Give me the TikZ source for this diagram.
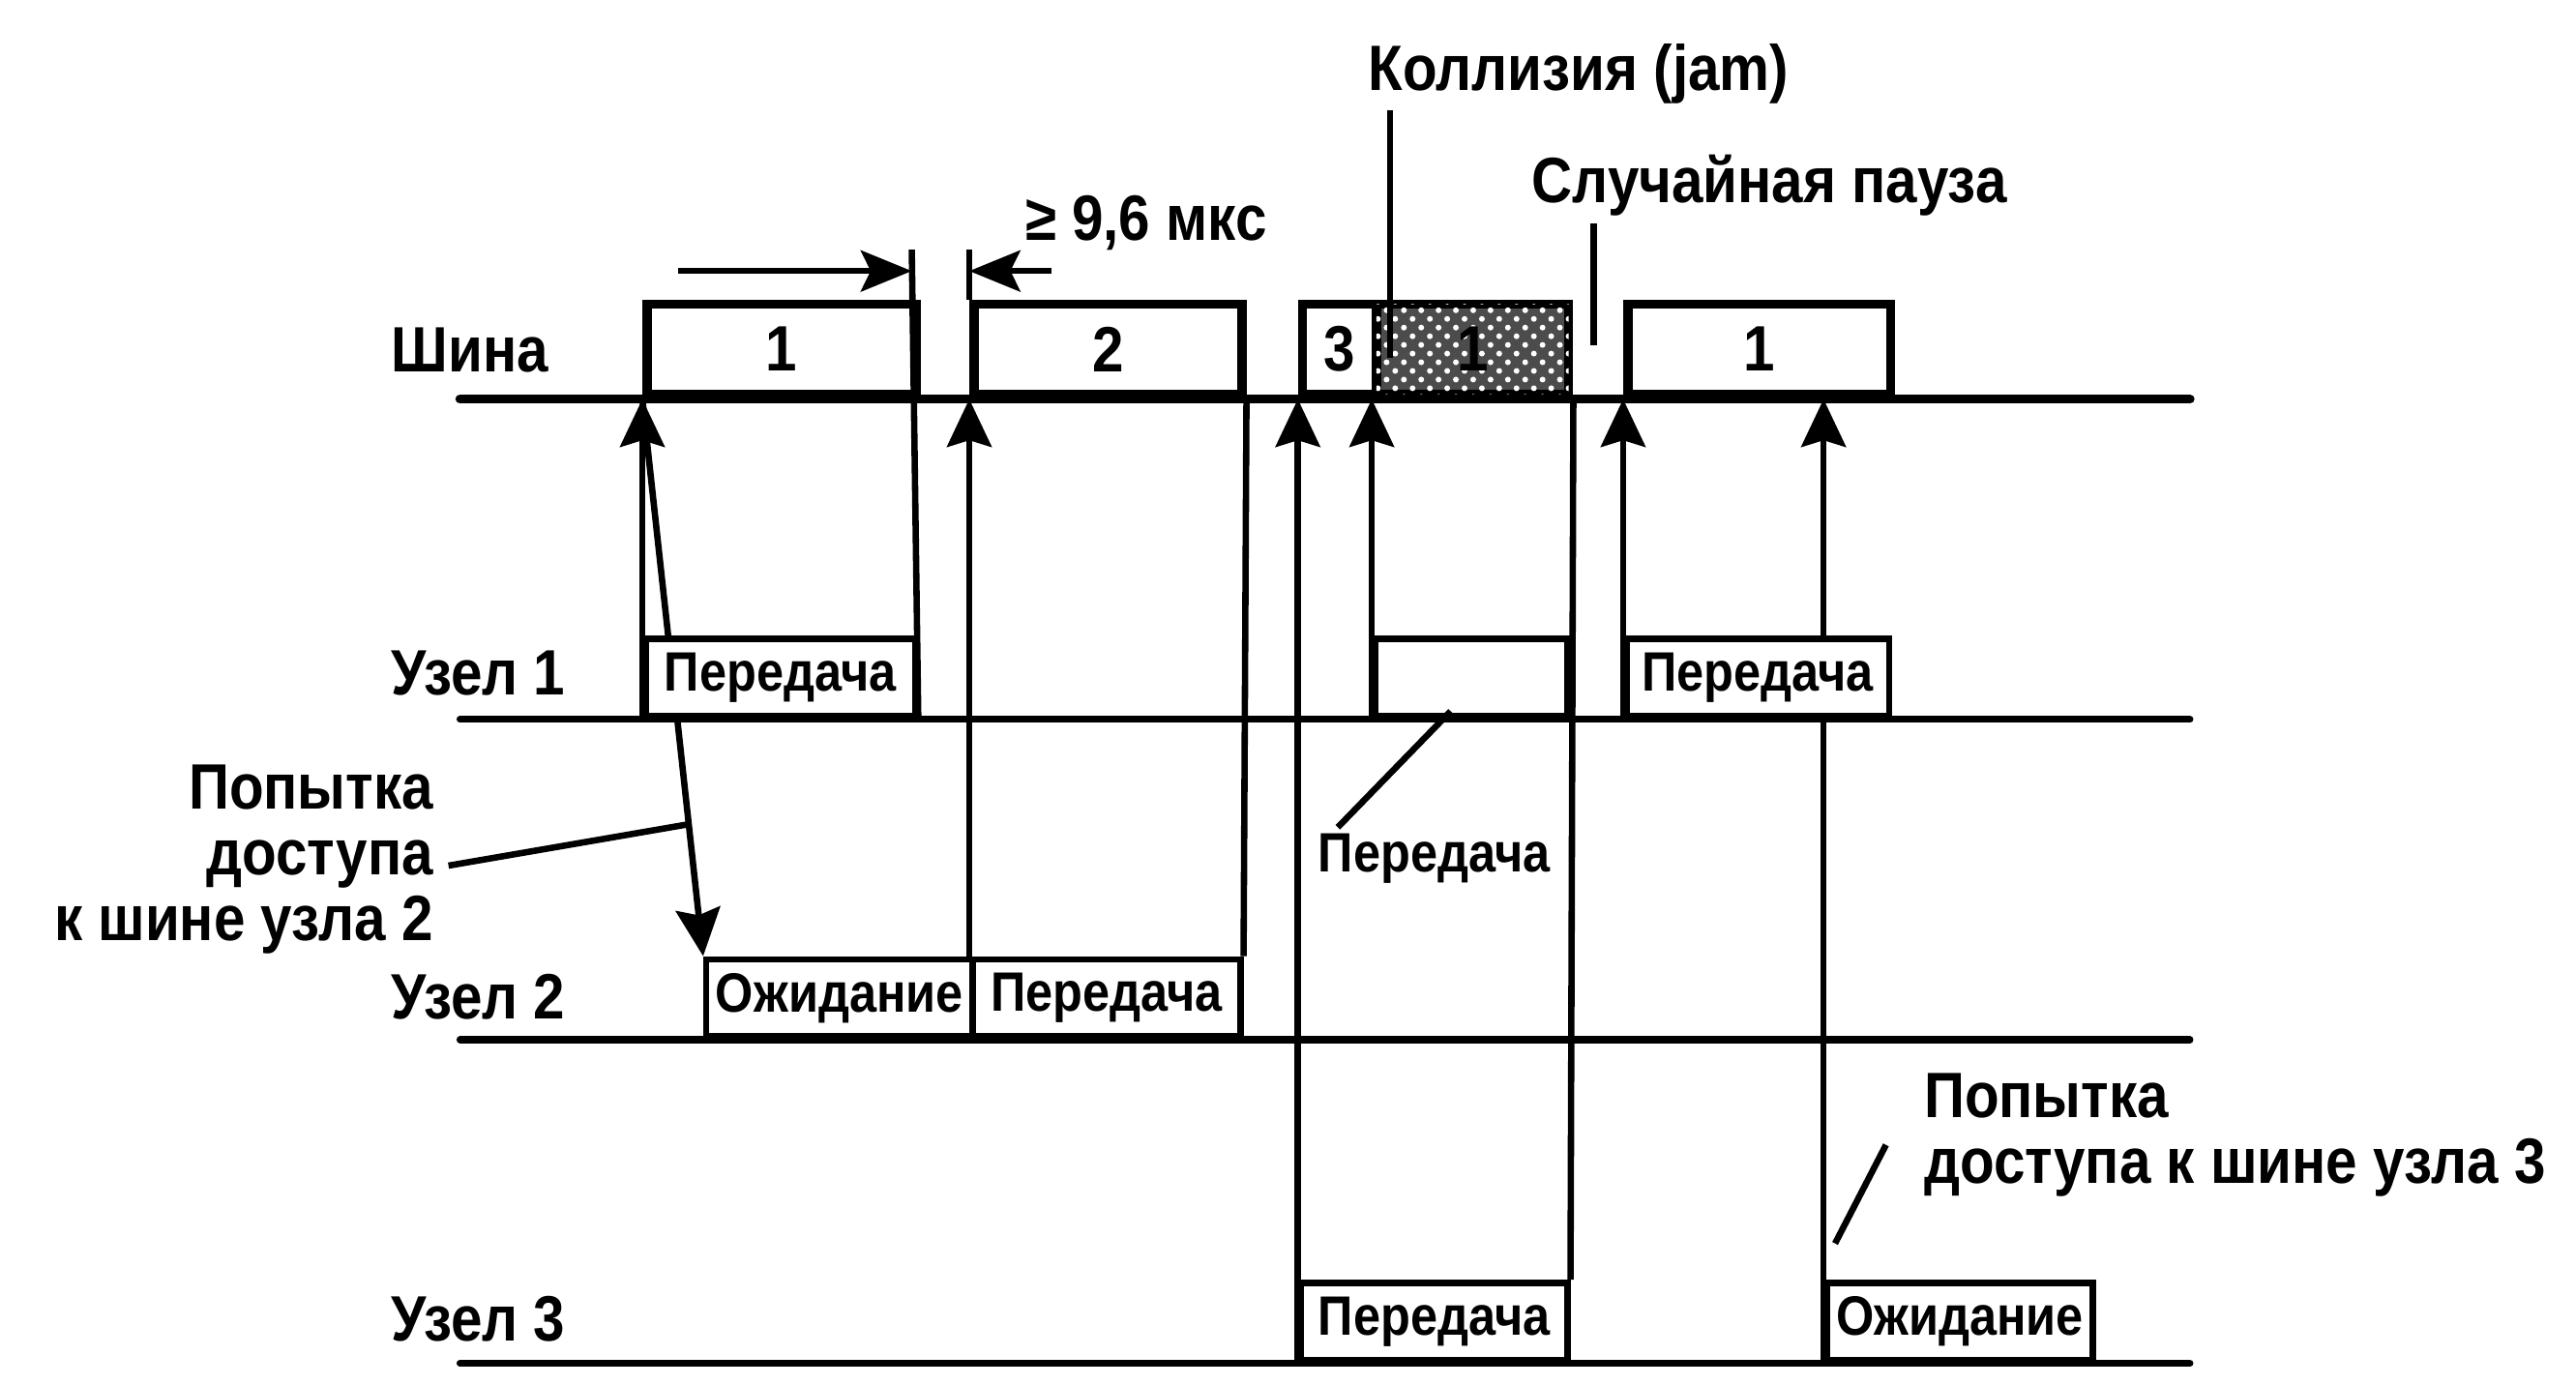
\documentclass[tikz,border=0pt]{standalone}
\usepackage{fontspec}
\setmainfont{Liberation Sans}[FakeStretch=0.88]
\usetikzlibrary{arrows.meta,patterns,backgrounds}
\newcommand\lblfont{\fontsize{11.1}{11.4}\selectfont\bfseries}
\newcommand\slotfont{\fontsize{9.6}{10}\selectfont\bfseries}
\tikzset{frame/.style={draw,line width=1.6pt,fill=white,anchor=south west,inner sep=0pt,
minimum height=5.5mm,font=\lblfont},
slot/.style={draw,line width=1.1pt,fill=white,anchor=south west,inner sep=0pt,
minimum height=4.7mm,font=\slotfont},
jam/.style={frame,fill=black!70,postaction={pattern=crosshatch dots,pattern color=white}},
lane/.style={line width=1.2pt,line cap=round},
busline/.style={line width=1.6pt,line cap=round},
edge/.style={line width=1.1pt},
sig/.style={edge,-{Stealth[length=2.9mm,width=2.7mm,inset=0.4mm]}},
dim/.style={edge,-{Stealth[length=3.1mm,width=2.5mm,inset=0.6mm]}},
lead/.style={line width=1.1pt},
tag/.style={font=\lblfont,inner sep=1pt}}

\begin{document}
\begin{tikzpicture}[x=0.01cm,y=-0.01cm]
\useasboundingbox (0,0) rectangle (1568,843);
% lanes
\draw[busline](280,243)--(1333,243);
\foreach \y in {438,633,830} \draw[lane](280,\y)--(1333,\y);
\node[tag,anchor=west](bus) at (234,213){Шина};
\node[tag,anchor=west](u1) at (234,410){Узел 1};
\node[tag,anchor=west](u2) at (234,607){Узел 2};
\node[tag,anchor=west](u3) at (234,803){Узел 3};
% frames on the bus
\node[frame,minimum width=1.64cm](f1) at (391,243){1};
\node[frame,minimum width=1.63cm](f2) at (590,243){2};
\node[frame,minimum width=0.45cm](f3) at (790,243){3};
\node[jam,minimum width=1.17cm](fj) at (835,243){1};
\node[frame,minimum width=1.60cm](f4) at (988,243){1};
% node states
\node[slot,minimum width=1.64cm](n1a) at (391,438){Передача};
\node[slot,minimum width=1.17cm](n1b) at (835,438){};
\node[slot,minimum width=1.60cm](n1c) at (988,438){Передача};
\node[slot,minimum width=1.62cm](n2a) at (428,633){Ожидание};
\node[slot,minimum width=1.63cm](n2b) at (590,633){Передача};
\node[slot,minimum width=1.62cm](n3a) at (790,830){Передача};
\node[slot,minimum width=1.62cm](n3b) at (1110,830){Ожидание};
\begin{pgfonlayer}{background}
\draw[sig](n1a.south west)--(f1.south west);
\draw[sig](f1.south west)--(n2a.north west);
\draw[sig](n2b.south west)--(f2.south west);
\draw[edge](f2.south east)--(n2b.north east);
\draw[sig](n3a.south west)--(f3.south west);
\draw[sig](n1b.south west)--(fj.south west);
\draw[edge](fj.south east)--(n3a.north east);
\draw[sig](n1c.south west)--(f4.south west);
\draw[sig](n3b.south west)--(n3b.south west |- f4.south);
\end{pgfonlayer}
% interframe gap
\coordinate(ext1) at (555,152);\coordinate(ext2) at (590,152);
\draw[edge](n1a.south east)--(ext1);\draw[edge](ext2)--(f2.north west);
\coordinate(d1) at (413,165);\coordinate(d2) at (640,165);
\draw[dim](d1)--(d1 -| ext1);\draw[dim](d2)--(d2 -| ext2);
\node[tag,anchor=west](gap96) at (620,136){≥ 9,6 мкс};
% callouts
\node[tag](coll) at (961,45){Коллизия (jam)};
\coordinate(jamend) at (846,218);
\draw[lead](jamend)--(jamend |- coll.south);
\node[tag](pause) at (1077,113){Случайная пауза};
\coordinate(pauseend) at (970,210);
\draw[lead](pauseend)--(pauseend |- pause.south);
\node[tag,font=\slotfont](tx1) at (873,523){Передача};
\coordinate(tx1end) at (883,433);
\draw[lead]([xshift=1.6mm]tx1.north west)--(tx1end);
\node[tag,align=right,anchor=east](try2) at (268,523){Попытка\\доступа\\к шине узла 2};
\coordinate(try2end) at (418,502);
\draw[lead]([xshift=0.5mm,yshift=-0.4mm]try2.east)--(try2end);
\node[tag,align=left,anchor=west](try3) at (1167,691){Попытка\\доступа к шине узла 3};
\coordinate(try3end) at (1117,757);
\draw[lead]([xshift=-1.9mm,yshift=-0.6mm]try3.west)--(try3end);
\end{tikzpicture}
\end{document}
